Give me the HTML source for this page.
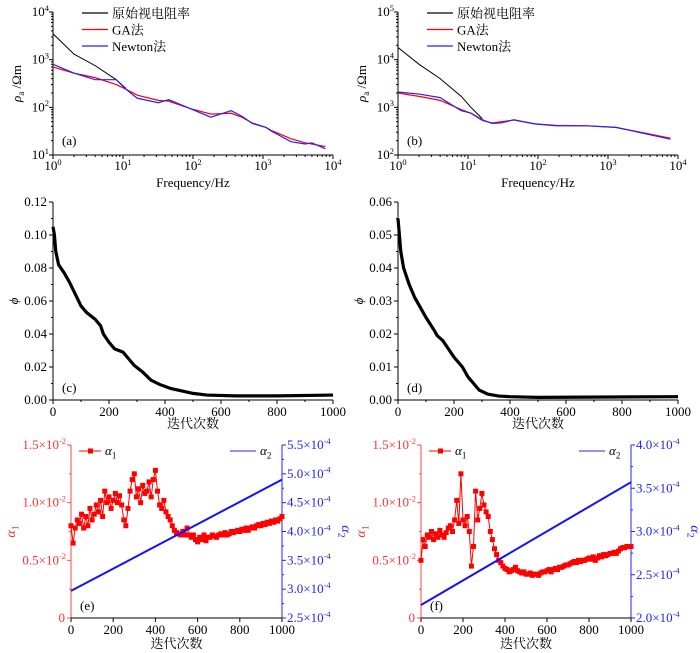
<!DOCTYPE html>
<html><head><meta charset="utf-8"><style>
body{margin:0;background:#fff}
svg{display:block;font-family:"Liberation Serif","Noto Serif CJK SC",serif}
</style></head><body>
<svg id="fig" width="700" height="653" viewBox="0 0 700 653" xmlns="http://www.w3.org/2000/svg"></svg>
<script>
// ---- data ----
const freqA = [1,2,4,8,11,16,32,45,90,180,350,500,700,1100,1300,2500,4000,5000,7800];
const rawA = [3500,1300,750,380,250];
const gaA = [700,520,420,300,240,180,140,135,95,72,75,62,47,38,33,22,18,17,15];
const newtonA = [800,520,380,380,240,155,125,145,95,62,85,65,46,38,32,19,17,18,13.5];
const freqB = [1,2,4,8,11,16,22,30,45,90,180,500,1300,7800];
const rawB = [18000,8000,4000,1700,1000,580];
const gaB = [2000,1700,1400,900,750,530,470,500,540,450,420,410,380,225];
const newtonB = [2100,1900,1600,850,760,550,460,470,550,450,410,410,380,215];
const iterC = [0,5,10,20,40,60,80,100,120,150,170,180,200,220,250,270,290,320,350,380,420,460,500,550,650,800,1000];
const phiC = [0.105,0.100,0.090,0.082,0.077,0.071,0.064,0.057,0.053,0.049,0.045,0.040,0.035,0.031,0.029,0.025,0.021,0.017,0.012,0.0095,0.007,0.0055,0.004,0.003,0.0025,0.0025,0.003];
const iterD = [0,5,10,20,40,60,80,100,130,140,160,200,230,250,270,290,320,360,400,500,1000];
const phiD = [0.055,0.050,0.045,0.040,0.035,0.031,0.028,0.025,0.021,0.0195,0.018,0.013,0.010,0.007,0.005,0.003,0.0018,0.0012,0.001,0.0008,0.001];
const alpha1E = [0.80,0.65,0.78,0.85,0.82,0.90,0.78,0.88,0.80,0.95,0.85,0.90,0.98,0.92,1.02,0.88,1.10,1.00,1.05,0.95,1.02,1.08,1.00,1.06,0.98,0.85,0.80,0.95,1.10,1.20,1.25,1.05,1.12,1.00,1.15,1.08,1.10,1.18,1.05,1.20,1.28,1.10,0.98,0.95,1.02,0.92,0.88,0.85,0.80,0.76,0.74,0.73,0.72,0.75,0.72,0.78,0.72,0.70,0.72,0.68,0.66,0.70,0.68,0.72,0.67,0.70,0.70,0.72,0.71,0.70,0.72,0.73,0.72,0.74,0.72,0.73,0.75,0.74,0.75,0.76,0.75,0.77,0.76,0.78,0.76,0.78,0.79,0.78,0.80,0.81,0.80,0.82,0.81,0.83,0.82,0.84,0.83,0.85,0.84,0.86,0.88];
const iterAlpha2 = [0,1000];
const alpha2E = [2.97,4.90];
const alpha1F = [0.50,0.68,0.62,0.72,0.70,0.75,0.68,0.73,0.70,0.76,0.72,0.70,0.74,0.78,0.80,0.75,0.85,1.02,0.82,1.25,0.85,0.80,0.88,0.75,0.45,0.62,1.10,0.85,0.95,1.08,0.98,0.92,0.88,0.75,0.68,0.60,0.55,0.50,0.48,0.45,0.43,0.42,0.40,0.41,0.42,0.44,0.41,0.40,0.39,0.40,0.38,0.38,0.39,0.37,0.38,0.38,0.37,0.39,0.40,0.40,0.41,0.42,0.40,0.42,0.43,0.42,0.44,0.44,0.45,0.46,0.46,0.47,0.48,0.49,0.48,0.50,0.49,0.50,0.50,0.51,0.52,0.51,0.53,0.50,0.52,0.54,0.53,0.55,0.54,0.55,0.56,0.56,0.57,0.56,0.58,0.60,0.61,0.61,0.62,0.62,0.62];
const alpha2F = [2.15,3.57];
const itTicks = [0,200,400,600,800,1000];
const phiTicksC = ["0.00","0.02","0.04","0.06","0.08","0.10","0.12"];
const phiTicksD = ["0.00","0.01","0.02","0.03","0.04","0.05","0.06"];

const NS="http://www.w3.org/2000/svg";
const svg=document.getElementById('fig');
const FS=13;
function mk(tag,attrs,parent){const e=document.createElementNS(NS,tag);for(const k in attrs)e.setAttribute(k,attrs[k]);(parent||svg).appendChild(e);return e;}
function txt(x,y,s,size,fill,anchor){const t=mk('text',{x:x,y:y,'font-size':size,fill:fill||'#000','text-anchor':anchor||'middle'});t.textContent=s;return t;}
function sup(x,y,base,exp,size,fill,anchor){const t=mk('text',{x:x,y:y,'font-size':size,fill:fill||'#000','text-anchor':anchor||'middle'});const a=mk('tspan',{},t);a.textContent=base;const b=mk('tspan',{'font-size':size*0.65,dy:-size*0.4},t);b.textContent=exp;return t;}
function alphaText(x,y,sub,size,fill,anchor,transform){const a={x:x,y:y,'font-size':size,fill:fill,'text-anchor':anchor};if(transform)a.transform=transform;const t=mk('text',a);const s1=mk('tspan',{'font-style':'italic'},t);s1.textContent='α';const s2=mk('tspan',{'font-size':size*0.7,dy:size*0.25},t);s2.textContent=sub;return t;}

function logPanel(x0,x1,yT,yB,dMin,dMax,freq,raw,ga,nw,label){
  const sx=f=>x0+Math.log10(f)/4*(x1-x0);
  const sy=v=>yB-(Math.log10(v)-dMin)/(dMax-dMin)*(yB-yT);
  const ax=mk('path',{d:`M${x0},${yT}V${yB}H${x1}`,stroke:'#000',fill:'none','stroke-width':1});
  
  
  for(let d=0;d<=4;d++){const x=sx(Math.pow(10,d));mk('line',{x1:x,x2:x,y1:yB,y2:yB+4,stroke:'#000'});
    const t=sup(x,yB+15,'10',String(d),FS);
    if(d<4)for(let m=2;m<10;m++){const xm=sx(m*Math.pow(10,d));mk('line',{x1:xm,x2:xm,y1:yB,y2:yB+2,stroke:'#000'});}}
  for(let d=dMin;d<=dMax;d++){const y=sy(Math.pow(10,d));mk('line',{x1:x0-4,x2:x0,y1:y,y2:y,stroke:'#000'});
    const t=sup(x0-4,y+4,'10',String(d),FS,'#000','end');
    if(d<dMax)for(let m=2;m<10;m++){const ym=sy(m*Math.pow(10,d));mk('line',{x1:x0-2,x2:x0,y1:ym,y2:ym,stroke:'#000'});}}
  const xt=txt((x0+x1)/2,yB+32,'Frequency/Hz',FS);
  const yt=mk('text',{x:0,y:0,'font-size':FS,'text-anchor':'middle',transform:`translate(${x0-32},${(yT+yB)/2}) rotate(-90)`});
  const r=mk('tspan',{'font-style':'italic'},yt);r.textContent='ρ';const s=mk('tspan',{'font-size':9,dy:3},yt);s.textContent='a';const o=mk('tspan',{dy:-3},yt);o.textContent=' /Ωm';
  
  const line=(vals,col,w,name)=>{const p=mk('polyline',{points:vals.map((v,i)=>sx(freq[i])+','+sy(v)).join(' '),fill:'none',stroke:col,'stroke-width':w});};
  line(raw,'#000',1,'raw-apparent-resistivity-line');line(ga,'#f00',1.2,'ga-line');line(nw,'#22f',1.2,'newton-line');
  const lg=[['原始视电阻率','#000'],['GA法','#f00'],['Newton法','#22f']];
  lg.forEach((l,i)=>{const y=yT+1+i*16.5;mk('line',{x1:x0+29,x2:x0+55,y1:y,y2:y,stroke:l[1],'stroke-width':1.3});const t=txt(x0+59,y+5,l[0],FS,'#000','start');});
  const pl=txt(x0+9,yB-10,label,FS,'#000','start');
}
logPanel(53,333,12,155,1,4,freqA,rawA,gaA,newtonA,'(a)');
logPanel(398,678,12,155,2,5,freqB,rawB,gaB,newtonB,'(b)');

function phiPanel(x0,x1,yT,yB,ymax,iters,vals,ticks,label){
  const sx=v=>x0+v/1000*(x1-x0);const sy=v=>yB-v/ymax*(yB-yT);
  const ax=mk('path',{d:`M${x0},${yT}V${yB}H${x1}`,stroke:'#000',fill:'none'});
  
  itTicks.forEach(v=>{mk('line',{x1:sx(v),x2:sx(v),y1:yB,y2:yB+4,stroke:'#000'});if(v<1000)mk('line',{x1:sx(v+100),x2:sx(v+100),y1:yB,y2:yB+2,stroke:'#000'});const t=txt(sx(v),yB+16,String(v),FS);});
  ticks.forEach((s,i)=>{const v=parseFloat(s);const y=sy(v);mk('line',{x1:x0-4,x2:x0,y1:y,y2:y,stroke:'#000'});if(i<ticks.length-1){const ym=sy(v+ymax/12);mk('line',{x1:x0-2,x2:x0,y1:ym,y2:ym,stroke:'#000'});}const t=txt(x0-6,y+4,s,FS,'#000','end');});
  const xt=txt((x0+x1)/2,yB+28,'迭代次数',FS);
  const yt=mk('text',{'font-size':FS,'font-style':'italic','text-anchor':'middle',transform:`translate(${x0-35},${(yT+yB)/2}) rotate(-90)`});yt.textContent='ϕ';
  
  const p=mk('polyline',{points:iters.map((v,i)=>sx(v)+','+sy(vals[i])).join(' '),fill:'none',stroke:'#000','stroke-width':3.2});
  
  const pl=txt(x0+9,yB-8,label,FS,'#000','start');
}
phiPanel(53,333,202,400,0.12,iterC,phiC,phiTicksC,'(c)');
phiPanel(398,678,202,400,0.06,iterD,phiD,phiTicksD,'(d)');

function alphaPanel(x0,x1,yT,yB,a1,a2,rmin,rmax,label){
  const sx=v=>x0+v/1000*(x1-x0);const sy=v=>yB-v/1.5*(yB-yT);const sr=v=>yB-(v-rmin)/(rmax-rmin)*(yB-yT);
  const la=mk('path',{d:`M${x0},${yT}V${yB}`,stroke:'#f44'});
  const ra=mk('path',{d:`M${x1},${yT}V${yB}`,stroke:'#22f'});
  const ba=mk('path',{d:`M${x0},${yB}H${x1}`,stroke:'#000'});
  itTicks.forEach(v=>{mk('line',{x1:sx(v),x2:sx(v),y1:yB,y2:yB+4,stroke:'#000'});const t=txt(sx(v),yB+16,String(v),FS);});
  ['0','0.5','1.0','1.5'].forEach(s=>{const v=parseFloat(s);const y=sy(v);mk('line',{x1:x0-4,x2:x0,y1:y,y2:y,stroke:'#f44'});
    const t=v===0?txt(x0-6,y+4,'0',FS,'#f33','end'):sup(x0-5,y+4,s+'×10','-2',FS,'#f33','end');});
  for(let v=0.25;v<1.5;v+=0.5){mk('line',{x1:x0-2,x2:x0,y1:sy(v),y2:sy(v),stroke:'#f44'});}
  const step=0.5;
  for(let v=rmin;v<=rmax+1e-9;v+=step){const y=sr(v);mk('line',{x1:x1,x2:x1+4,y1:y,y2:y,stroke:'#22f'});if(v<rmax-1e-9)mk('line',{x1:x1,x2:x1+2,y1:sr(v+step/2),y2:sr(v+step/2),stroke:'#22f'});
    const t=sup(x1+5,y+4,v.toFixed(1)+'×10','-4',FS,'#22f','start');}
  const xt=txt((x0+x1)/2,yB+30,'迭代次数',FS);
  const y1=alphaText(0,0,'1',14,'#f33','middle',`translate(${x0-56},${(yT+yB)/2}) rotate(-90)`);
  
  const y2=alphaText(0,0,'2',14,'#22f','middle',`translate(${x1+60},${(yT+yB)/2}) rotate(90)`);
  
  const n=a1.length;
  const p1=mk('polyline',{points:a1.map((v,i)=>sx(i*1000/(n-1))+','+sy(v)).join(' '),fill:'none',stroke:'#f00','stroke-width':1});
  
  a1.forEach((v,i)=>{const m=mk('rect',{x:sx(i*1000/(n-1))-2.5,y:sy(v)-2.5,width:5,height:5,fill:'#f00'});});
  const p2=mk('polyline',{points:a2.map((v,i)=>sx(iterAlpha2[i])+','+sr(v)).join(' '),fill:'none',stroke:'#11f','stroke-width':2});
  
  mk('line',{x1:x0+8,x2:x0+30,y1:yT+6,y2:yT+6,stroke:'#f00'});mk('rect',{x:x0+17,y:yT+3.5,width:5,height:5,fill:'#f00'});
  const l1=alphaText(x0+34,yT+10,'1',FS,'#000','start');
  mk('line',{x1:x1-52,x2:x1-26,y1:yT+6,y2:yT+6,stroke:'#22f'});
  const l2=alphaText(x1-22,yT+10,'2',FS,'#000','start');
  const pl=txt(x0+9,yB-8,label,FS,'#000','start');
}
alphaPanel(71,282,445,618,alpha1E,alpha2E,2.5,5.5,'(e)');
alphaPanel(421,631,445,618,alpha1F,alpha2F,2.0,4.0,'(f)');
</script>
</body></html>
